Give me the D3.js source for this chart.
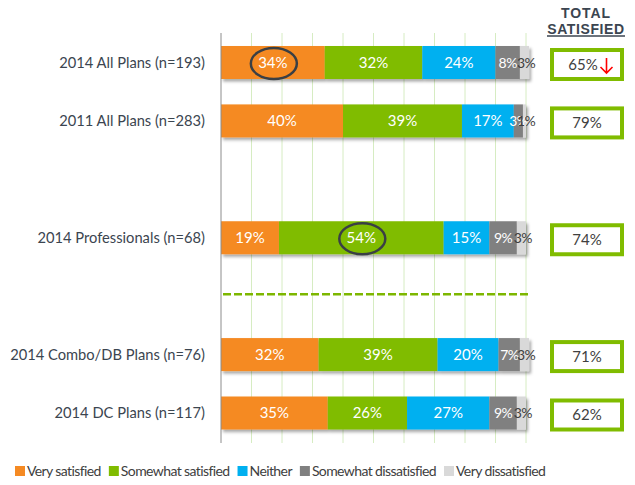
<!DOCTYPE html>
<html>
<head>
<meta charset="utf-8">
<script src="https://cdn.jsdelivr.net/npm/d3@7"></script>
<style>
  body { margin: 0; background: #fff; }
  text { font-family: Lato, "Open Sans", sans-serif; }
</style>
</head>
<body>
<svg width="635" height="485"></svg>
<script>
// chart values
var categories = ["2014 All Plans (n=193)", "2011 All Plans (n=283)", "2014 Professionals (n=68)", "2014 Combo/DB Plans (n=76)", "2014 DC Plans (n=117)"];
var seriesNames = ["Very satisfied", "Somewhat satisfied", "Neither", "Somewhat dissatisfied", "Very dissatisfied"];
var verySatisfied = [34, 40, 19, 32, 35];
var somewhatSatisfied = [32, 39, 54, 39, 26];
var neither = [24, 17, 15, 20, 27];
var somewhatDissatisfied = [8, 3, 9, 7, 9];
var veryDissatisfied = [3, 1, 3, 3, 3];
var totalSatisfied = [65, 79, 74, 71, 62];
var totalDown = [true, false, false, false, false];
var circled = [{row: 0, series: 0}, {row: 2, series: 1}];
var xTicks = [0, 10, 20, 30, 40, 50, 60, 70, 80, 90, 100];

var colors = ["#f58a23", "#80bc00", "#00b0f0", "#808080", "#d9d9d9"];
var labelColors = ["#fff", "#fff", "#fff", "#fff", "#404040"];

var svg = d3.select("svg");

var values = [verySatisfied, somewhatSatisfied, neither, somewhatDissatisfied, veryDissatisfied];
var rows = categories.map(function(c, i) {
  var start = 0;
  return {
    name: c,
    segs: values.map(function(v, s) {
      var seg = {series: s, row: i, x0: start, x1: start + v[i], value: v[i]};
      start += v[i];
      return seg;
    })
  };
});

// slots with spacers so the gap and the divider get their own room
var slots = [categories[0], categories[1], "gap", categories[2], "divider", categories[3], categories[4]];

var x = d3.scaleLinear().domain([0, 100]).range([221, 526]);
var y = d3.scaleBand().domain(slots).range([46, 429.5]).paddingInner(0.435).paddingOuter(0);

var defs = svg.append("defs");
var f = defs.append("filter").attr("id", "shadow").attr("x", "-5%").attr("y", "-20%").attr("width", "115%").attr("height", "160%");
f.append("feDropShadow").attr("dx", 2).attr("dy", 2.5).attr("stdDeviation", 1.5)
  .attr("flood-color", "#000").attr("flood-opacity", 0.35);

// gridlines
svg.append("g")
  .selectAll("line")
  .data(xTicks.slice(1))
  .enter().append("line")
    .attr("x1", function(d) { return x(d); })
    .attr("x2", function(d) { return x(d); })
    .attr("y1", 33)
    .attr("y2", 443)
    .attr("stroke", "#d6ecc2")
    .attr("stroke-width", 1);

// divider
svg.append("line")
  .attr("x1", x(0) + 2)
  .attr("x2", x(100) + 2)
  .attr("y1", y("divider") + y.bandwidth() / 2 - 2)
  .attr("y2", y("divider") + y.bandwidth() / 2 - 2)
  .attr("stroke", "#7db700")
  .attr("stroke-width", 2.5)
  .attr("stroke-dasharray", "8,3");

var row = svg.append("g")
  .selectAll("g")
  .data(rows)
  .enter().append("g")
    .attr("transform", function(d) { return "translate(0," + y(d.name) + ")"; });

row.append("g")
  .attr("filter", "url(#shadow)")
  .selectAll("rect")
  .data(function(d) { return d.segs; })
  .enter().append("rect")
    .attr("x", function(d) { return x(d.x0); })
    .attr("width", function(d) { return x(d.x1) - x(d.x0); })
    .attr("y", 0)
    .attr("height", y.bandwidth())
    .attr("fill", function(d) { return colors[d.series]; });

// small end segments: the labels crowd together as in the original
row.selectAll("text.seg")
  .data(function(d) { return d.segs; })
  .enter().append("text")
    .attr("class", "seg")
    .attr("x", function(d) { return x((d.x0 + d.x1) / 2) + (d.series == 4 ? 1.5 : 0); })
    .attr("y", y.bandwidth() / 2 + 5.5)
    .attr("text-anchor", "middle")
    .attr("font-size", function(d) { return d.value < 10 ? 14 : 15; })
    .attr("letter-spacing", function(d) { return d.value < 10 ? -0.6 : 0; })
    .attr("fill", function(d) { return labelColors[d.series]; })
    .text(function(d) { return d.value + "%"; });

// category labels
row.append("text")
  .attr("x", 205)
  .attr("y", y.bandwidth() / 2 + 5.5)
  .attr("text-anchor", "end")
  .attr("font-size", 14.7)
  .attr("fill", "#3b4550")
  .text(function(d) { return d.name; });

// circled values
svg.append("g")
  .selectAll("ellipse")
  .data(circled)
  .enter().append("ellipse")
    .attr("cx", function(d) { var s = rows[d.row].segs[d.series]; return x((s.x0 + s.x1) / 2) + 1; })
    .attr("cy", function(d) { return y(categories[d.row]) + y.bandwidth() / 2 + 1; })
    .attr("rx", 23)
    .attr("ry", 15.5)
    .attr("fill", "none")
    .attr("stroke", "#3a3f44")
    .attr("stroke-width", 2.5);

// total satisfied boxes
row.append("rect")
  .attr("x", 552)
  .attr("y", 4)
  .attr("width", 70)
  .attr("height", y.bandwidth() - 4)
  .attr("fill", "#fff")
  .attr("stroke", "#80bc00")
  .attr("stroke-width", 4);

row.append("text")
  .attr("x", function(d, i) { return totalDown[i] ? 583 : 587; })
  .attr("y", y.bandwidth() / 2 + 7)
  .attr("text-anchor", "middle")
  .attr("font-size", 15)
  .attr("fill", "#404040")
  .text(function(d, i) { return totalSatisfied[i] + "%"; });

row.filter(function(d, i) { return totalDown[i]; })
  .append("path")
    .attr("d", "M606.5,12 L606.5,27 M600.5,21 L606.5,27 L612.5,21")
    .attr("fill", "none")
    .attr("stroke", "#ff0000")
    .attr("stroke-width", 1.6);

// header
svg.append("text")
  .attr("x", 586).attr("y", 18)
  .attr("text-anchor", "middle")
  .style("font-family", "'Liberation Sans', Arial, sans-serif")
  .attr("font-weight", "bold")
  .attr("font-size", 14)
  .attr("letter-spacing", 0.9)
  .attr("fill", "#3b4550")
  .text("TOTAL");
svg.append("text")
  .attr("x", 586).attr("y", 33.5)
  .attr("text-anchor", "middle")
  .style("font-family", "'Liberation Sans', Arial, sans-serif")
  .attr("font-weight", "bold")
  .attr("font-size", 14)
  .attr("letter-spacing", 0.6)
  .attr("fill", "#3b4550")
  .text("SATISFIED");
svg.append("line")
  .attr("x1", 547).attr("x2", 625)
  .attr("y1", 36).attr("y2", 36)
  .attr("stroke", "#3b4550")
  .attr("stroke-width", 1.6);

// axis line
svg.append("line")
  .attr("x1", x(0)).attr("x2", x(0))
  .attr("y1", 33).attr("y2", 443)
  .attr("stroke", "#8c8c8c")
  .attr("stroke-width", 1);

// legend
var legend = svg.append("g");
var lx = 15;
seriesNames.forEach(function(name, i) {
  legend.append("rect")
    .attr("x", lx).attr("y", 466)
    .attr("width", 10).attr("height", 10)
    .attr("fill", colors[i]);
  var t = legend.append("text")
    .attr("x", lx + 12).attr("y", 475.5)
    .attr("font-size", 14)
    .attr("letter-spacing", -0.6)
    .attr("fill", "#404040")
    .text(name);
  lx += 12 + t.node().getComputedTextLength() + 8;
});
</script>
</body>
</html>
